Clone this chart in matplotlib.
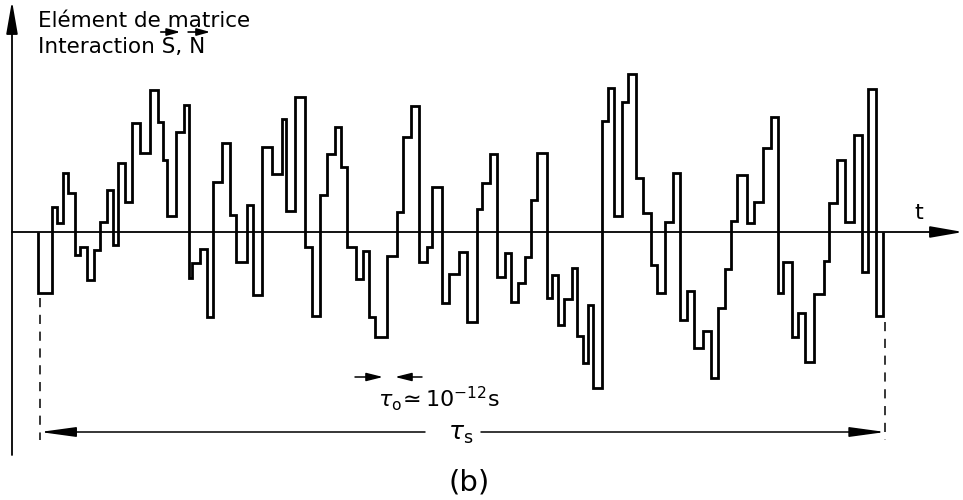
import matplotlib
matplotlib.use("Agg")
import matplotlib.pyplot as plt

# step boundaries (time, arbitrary units ~ pixel scale) and matrix-element levels
edges = [38, 51.7, 56.7, 63.3, 68.3, 75, 80, 87.3, 94, 100, 106.7, 113.3, 118.3, 125,
         131.7, 140, 150, 158.3, 162.7, 166.7, 175.7, 184.3, 189, 191.7, 200, 207.3,
         213.3, 221.7, 230, 236, 246.7, 253.3, 262.3, 272.3, 281.7, 286, 295, 305,
         311.7, 320, 326.7, 335, 341, 347.3, 356, 363.3, 369.3, 375, 387.3, 396.7,
         403.3, 410.7, 419.3, 426.7, 431.7, 442.3, 449, 459.3, 467.3, 477.3, 481.7,
         490, 497.3, 505, 510.7, 518.3, 525, 530.7, 537.3, 546.7, 551.7, 558.3, 564,
         571.7, 577.3, 582.7, 588.3, 592.7, 601.7, 608.3, 614, 621.7, 628.3, 636,
         642.7, 650.7, 656.7, 665, 673.3, 680, 687.3, 694, 702.7, 710.7, 718.3, 725,
         730.7, 736.7, 746.7, 754, 762.7, 770.7, 778.3, 783.3, 791.7, 798.3, 805,
         814.3, 824, 829.3, 837.3, 845, 854, 861.7, 868.3, 876, 883.3]
levels = [-61, 25, 9, 59, 39, -23, -15, -48, -18, 10, 42, -13, 69, 30, 109, 79, 142,
          110, 72, 16, 100, 127, -46, -31, -17, -85, 50, 89, 17, -30, 27, -63, 85, 58,
          113, 21, 135, -15, -84, 37, 78, 105, 65, -15, -47, -19, -85, -105, -24, 20,
          95, 126, -30, -15, 45, -71, -42, -20, -90, 23, 49, 78, -45, -21, -70, -51,
          -25, 32, 79, -66, -43, -93, -67, -36, -104, -131, -73, -156, 111, 144, 16,
          130, 158, 54, 19, -33, -61, 10, 59, -88, -59, -116, -99, -146, -76, -37, 11,
          57, 9, 30, 84, 115, -61, -30, -105, -81, -130, -62, -29, 29, 72, 10, 97, -40,
          143, -84]

title_lines = ["Elément de matrice", "Interaction S, N"]
vector_letters = ["Interaction S", "Interaction S, N"]
axis_label = "t"
tau0_label = r"$\tau_{\mathrm{o}}\!\simeq 10^{-12}\mathrm{s}$"
taus_label = r"$\tau_{\mathrm{s}}$"
panel_label = "(b)"

plt.rcParams["font.family"] = ["DejaVu Sans"]
plt.rcParams["mathtext.fontset"] = "dejavusans"

fig = plt.figure(figsize=(9.63, 5.0), dpi=100)
ax = fig.add_axes([0, 0, 1, 1])
ax.set_xlim(0, 963)
ax.set_ylim(-268, 232)
ax.axis("off")

# axes with arrows
arrow_kw = dict(arrowstyle="-|>,head_length=2.0,head_width=0.35", mutation_scale=10,
                color="black", lw=1.3, shrinkA=0, shrinkB=0)
ax.annotate("", xy=(12, 231), xytext=(12, -223), arrowprops=arrow_kw)
ax.annotate("", xy=(963, 0), xytext=(12, 0), arrowprops=arrow_kw)

# step signal
ax.stairs(levels, edges, baseline=0, color="black", lw=2.0)

# dashed limits
t_start, t_end = edges[0] + 2, edges[-1] + 2
ax.plot([t_start, t_start], [-66, -208], ls=(0, (6, 5)), color="black", lw=1.1)
ax.plot([t_end, t_end], [-90, -208], ls=(0, (6, 5)), color="black", lw=1.1)

# tau_s double arrow
ts_kw = dict(arrowstyle="-|>,head_length=2.2,head_width=0.3", mutation_scale=10,
             color="black", lw=1.1, shrinkA=0, shrinkB=0)
ax.annotate("", xy=(t_start, -200), xytext=(425, -200), arrowprops=ts_kw)
ax.annotate("", xy=(t_end, -200), xytext=(481, -200), arrowprops=ts_kw)
ax.text(448, -208, taus_label, fontsize=18, ha="left", va="baseline")

# tau_0 arrows
t0_kw = dict(arrowstyle="-|>,head_length=1.0,head_width=0.25", mutation_scale=10,
             color="black", lw=1.1, shrinkA=0, shrinkB=0)
ax.annotate("", xy=(383, -145), xytext=(355, -145), arrowprops=t0_kw)
ax.annotate("", xy=(395, -145), xytext=(422, -145), arrowprops=t0_kw)
ax.text(378, -175, tau0_label, fontsize=16, ha="left", va="baseline")

fs = 15.5
ax.text(38, 205, title_lines[0], fontsize=fs, ha="left", va="baseline")
ax.text(38, 179, title_lines[1], fontsize=fs, ha="left", va="baseline")
ax.text(919, 19, axis_label, fontsize=16, ha="center", va="center")
ax.text(469, -250, panel_label, fontsize=21, ha="center", va="center")

# vector arrows over S and N (measured from the rendered text)
fig.canvas.draw()
renderer = fig.canvas.get_renderer()


def text_width(s):
    t = ax.text(0, 0, s, fontsize=fs)
    w = t.get_window_extent(renderer).width
    t.remove()
    return w


vec_kw = dict(arrowstyle="-|>,head_length=0.8,head_width=0.22", mutation_scale=10,
              color="black", lw=1.2, shrinkA=0, shrinkB=0)
for prefix in vector_letters:
    right = 38 + text_width(prefix)
    left = right - text_width(prefix[-1])
    ax.annotate("", xy=(right + 5, 200), xytext=(left - 1, 200), arrowprops=vec_kw)

fig.savefig("out.png", dpi=100)
